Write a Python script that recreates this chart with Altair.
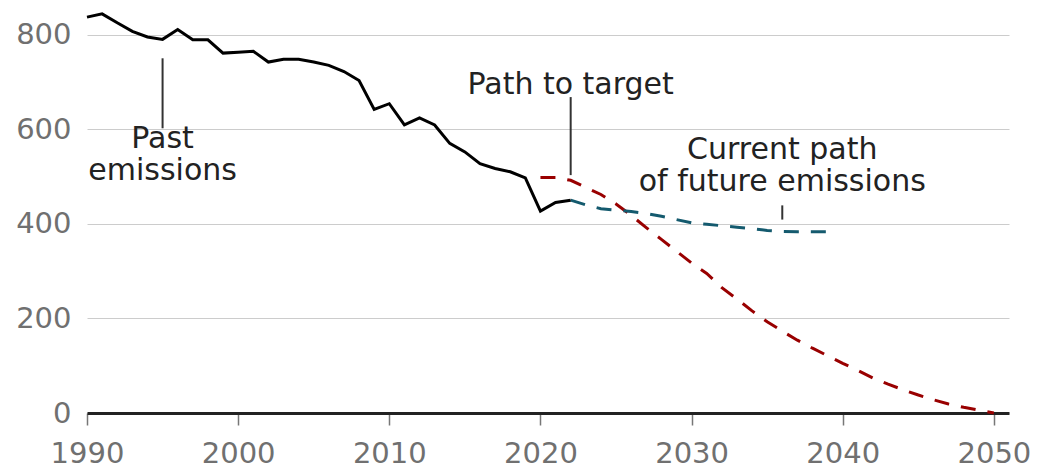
import altair as alt
import pandas as pd

# ---- data ----
past_years = list(range(1990, 2023))
past_values = [837, 844, 825, 807, 795, 790, 811, 789, 789, 761,
               763, 765, 742, 748, 748, 742, 735, 722, 703, 642,
               654, 609, 624, 609, 570, 552, 527, 517, 510, 497,
               427, 445, 450]

target_years = list(range(2020, 2051))
target_values = [498, 498, 492, 477, 462, 442, 418, 392, 367, 342,
                 317, 295, 265, 241, 216, 193, 173, 154, 137, 121,
                 105, 90, 74, 61, 49, 38, 28, 19, 12, 6,
                 0]

current_years = list(range(2022, 2040))
current_values = [450, 440, 432, 429, 426, 422, 416, 409, 402, 399,
                  396, 393, 390, 386, 384, 383, 383, 383]

x_ticks = [1990, 2000, 2010, 2020, 2030, 2040, 2050]
y_ticks = [0, 200, 400, 600, 800]

ann_labels = ["Past\nemissions", "Path to target", "Current path\nof future emissions"]
ann_x = [1995, 2022, 2036]
ann_y = [560, 675, 538]
lead_x = [1995, 2022, 2036]
lead_y1 = [750, 668, 439]
lead_y2 = [602, 503, 409]

FONT = "DejaVu Sans"

past = pd.DataFrame({"year": past_years, "value": past_values})
target = pd.DataFrame({"year": target_years, "value": target_values})
current = pd.DataFrame({"year": current_years, "value": current_values})
ann = pd.DataFrame({"year": ann_x, "value": ann_y, "label": ann_labels})
lead = pd.DataFrame({"year": lead_x, "y1": lead_y1, "y2": lead_y2})

xscale = alt.Scale(domain=[1990, 2051], nice=False, zero=False)
yscale = alt.Scale(domain=[0, 850], nice=False)

x_enc = alt.X("year:Q", scale=xscale, axis=alt.Axis(
    values=x_ticks, format="d", title=None, grid=False,
    domainColor="#222222", domainWidth=3,
    tickColor="#777777", tickWidth=1.5, tickSize=12,
    labelFontSize=29, labelColor="#707070", labelFont=FONT,
    labelPadding=14, labelFlush=False))
y_enc = alt.Y("value:Q", scale=yscale, axis=alt.Axis(
    values=y_ticks, title=None, grid=True, gridColor="#cccccc", gridWidth=1,
    domain=False, ticks=False,
    labelFontSize=29, labelColor="#707070", labelFont=FONT,
    labelPadding=16))

target_line = alt.Chart(target).mark_line(
    color="#990000", strokeWidth=3, strokeDash=[15, 12]
).encode(x=x_enc, y=y_enc)

current_line = alt.Chart(current).mark_line(
    color="#145a6e", strokeWidth=3, strokeDash=[15, 12]
).encode(x="year:Q", y="value:Q")

past_line = alt.Chart(past).mark_line(
    color="#000000", strokeWidth=3
).encode(x="year:Q", y="value:Q")

leaders = alt.Chart(lead).mark_rule(color="#333333", strokeWidth=2).encode(
    x="year:Q", y="y1:Q", y2="y2:Q")

texts = alt.Chart(ann).mark_text(
    font=FONT, fontSize=30, color="#222222", align="center",
    baseline="alphabetic", lineBreak="\n", lineHeight=32
).encode(x="year:Q", y="value:Q", text="label:N")

chart = alt.layer(target_line, current_line, past_line, leaders, texts).properties(
    width=922, height=402,
    padding={"left": 79, "top": 3, "right": 22, "bottom": 58},
    autosize=alt.AutoSizeParams(type="none"),
).configure_view(stroke=None)

chart.save("out.html", embed_options={"renderer": "svg", "actions": False})
